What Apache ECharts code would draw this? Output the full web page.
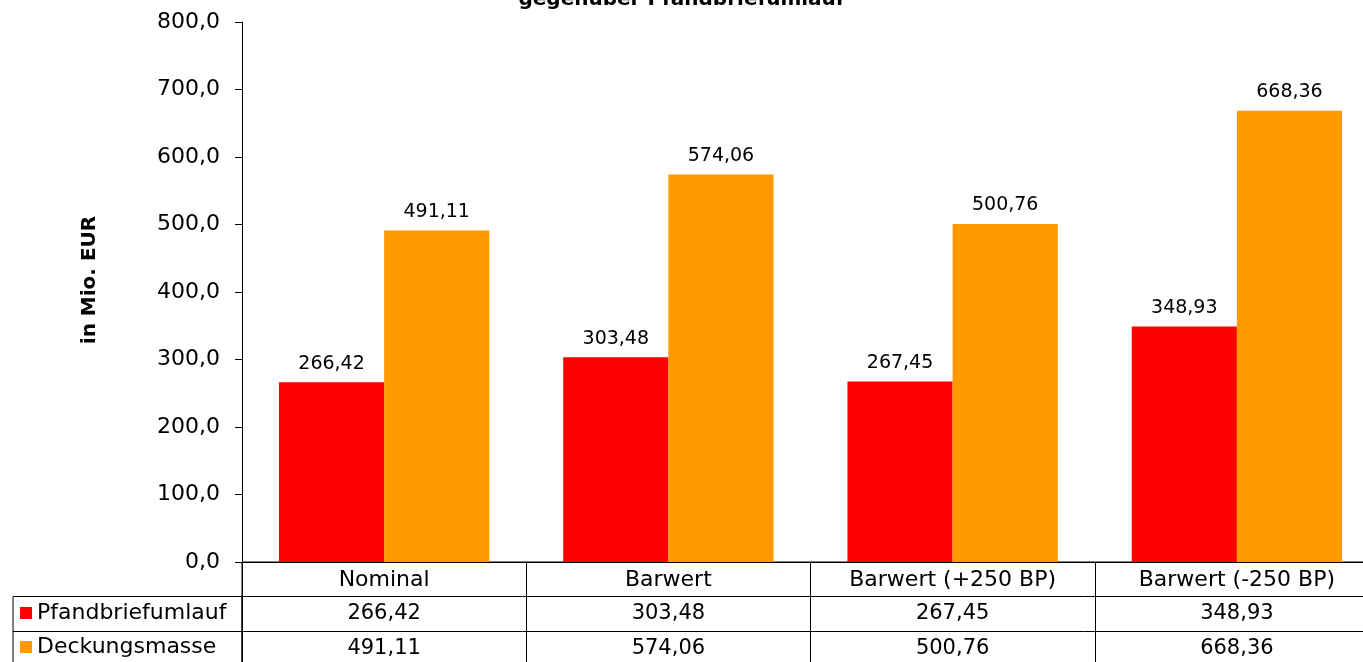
<!DOCTYPE html>
<html>
<head>
<meta charset="utf-8">
<script src="https://cdn.jsdelivr.net/npm/echarts@6/dist/echarts.min.js"></script>
<style>
  html, body { margin: 0; padding: 0; background: #fff; }
  #chart { width: 1363px; height: 662px; }
</style>
</head>
<body>
<div id="chart"></div>
<script>
// Daten
var categories = ['Nominal', 'Barwert', 'Barwert (+250 BP)', 'Barwert (-250 BP)'];
var pfandbriefumlauf = [266.42, 303.48, 267.45, 348.93];
var deckungsmasse = [491.11, 574.06, 500.76, 668.36];
var tableRows = ['', 'Pfandbriefumlauf', 'Deckungsmasse'];

var FONT = 'DejaVu Sans';
var RED = '#FF0000';
var ORANGE = '#FF9900';

function fmt(v, d) {
  return v.toFixed(d).replace('.', ',');
}

// Tabellenzellen (Spalte, Zeile, Wert)
var cells = [];
for (var i = 0; i < categories.length; i++) {
  cells.push([i, 1, pfandbriefumlauf[i]]);
  cells.push([i, 2, deckungsmasse[i]]);
}

var chart = echarts.init(document.getElementById('chart'));

var option = {
  backgroundColor: '#ffffff',
  animation: false,
  textStyle: { fontFamily: FONT },
  title: {
    text: 'gegenüber Pfandbriefumlauf',
    left: 'center',
    top: -10,
    padding: 0,
    textStyle: { fontFamily: FONT, fontSize: 20, fontWeight: 'bold', color: '#000' }
  },
  legend: {
    data: ['Pfandbriefumlauf', 'Deckungsmasse'],
    orient: 'vertical',
    left: 20,
    top: 601,
    padding: 0,
    itemWidth: 12,
    itemHeight: 12,
    itemGap: 10,
    icon: 'rect',
    textStyle: { fontFamily: FONT, fontSize: 22, color: '#000', lineHeight: 24 }
  },
  grid: [
    // Diagramm
    { left: 242, top: 22, width: 1137, height: 540, outerBoundsMode: 'none' },
    // Datentabelle
    { left: 242, top: 562, width: 1137, height: 103.5, outerBoundsMode: 'none', show: true, borderColor: '#000', borderWidth: 1 },
    // Legendenspalte
    { left: 13, top: 596.5, width: 229, height: 69, outerBoundsMode: 'none', show: true, borderColor: '#000', borderWidth: 1 }
  ],
  xAxis: [{
    type: 'category',
    gridIndex: 0,
    data: categories,
    axisLine: { lineStyle: { color: '#000', width: 1 } },
    axisTick: { show: false },
    axisLabel: { margin: 7, fontFamily: FONT, fontSize: 22, color: '#000' }
  }, {
    type: 'category',
    gridIndex: 1,
    data: categories,
    axisLine: { show: false },
    axisTick: { show: false },
    axisLabel: { show: false },
    splitLine: { show: true, lineStyle: { color: '#000', width: 1 } }
  }, {
    type: 'value',
    gridIndex: 2,
    min: 0,
    max: 1,
    show: false
  }],
  yAxis: [{
    type: 'value',
    gridIndex: 0,
    min: 0,
    max: 800,
    interval: 100,
    name: 'in Mio. EUR',
    nameLocation: 'middle',
    nameGap: 142,
    nameTextStyle: { fontFamily: FONT, fontSize: 20, fontWeight: 'bold', color: '#000', padding: [0, 0, 0, 24] },
    axisLine: { show: true, lineStyle: { color: '#000', width: 1 } },
    axisTick: { show: true, length: 7, lineStyle: { color: '#000' } },
    axisLabel: {
      margin: 22,
      fontFamily: FONT,
      fontSize: 22,
      color: '#000',
      formatter: function (v) { return fmt(v, 1); }
    },
    splitLine: { show: false }
  }, {
    type: 'category',
    gridIndex: 1,
    data: tableRows,
    inverse: true,
    axisLine: { show: false },
    axisTick: { show: false },
    axisLabel: { show: false },
    splitLine: { show: true, lineStyle: { color: '#000', width: 1 } }
  }, {
    type: 'category',
    gridIndex: 2,
    data: tableRows.slice(1),
    inverse: true,
    axisLine: { show: false },
    axisTick: { show: false },
    axisLabel: { show: false },
    splitLine: { show: true, lineStyle: { color: '#000', width: 1 } }
  }],
  series: [{
    name: 'Pfandbriefumlauf',
    type: 'bar',
    xAxisIndex: 0,
    yAxisIndex: 0,
    data: pfandbriefumlauf,
    barGap: '0%',
    barCategoryGap: '26%',
    itemStyle: { color: RED },
    label: {
      show: true,
      position: 'top',
      distance: 9,
      fontFamily: FONT,
      fontSize: 19,
      color: '#000',
      formatter: function (p) { return fmt(p.value, 2); }
    }
  }, {
    name: 'Deckungsmasse',
    type: 'bar',
    xAxisIndex: 0,
    yAxisIndex: 0,
    data: deckungsmasse,
    itemStyle: { color: ORANGE },
    label: {
      show: true,
      position: 'top',
      distance: 9,
      fontFamily: FONT,
      fontSize: 19,
      color: '#000',
      formatter: function (p) { return fmt(p.value, 2); }
    }
  }, {
    name: 'Tabelle',
    type: 'scatter',
    xAxisIndex: 1,
    yAxisIndex: 1,
    data: cells,
    symbolSize: 1,
    itemStyle: { color: '#ffffff', opacity: 1 },
    silent: true,
    label: {
      show: true,
      position: 'inside',
      fontFamily: FONT,
      fontSize: 21,
      color: '#000000',
      opacity: 1,
      textBorderWidth: 0
    },
    labelLayout: { hideOverlap: false }
  }]
};

option.series[2].label.formatter = function (p) { return fmt(p.value[2], 2); };

chart.setOption(option);
</script>
</body>
</html>
